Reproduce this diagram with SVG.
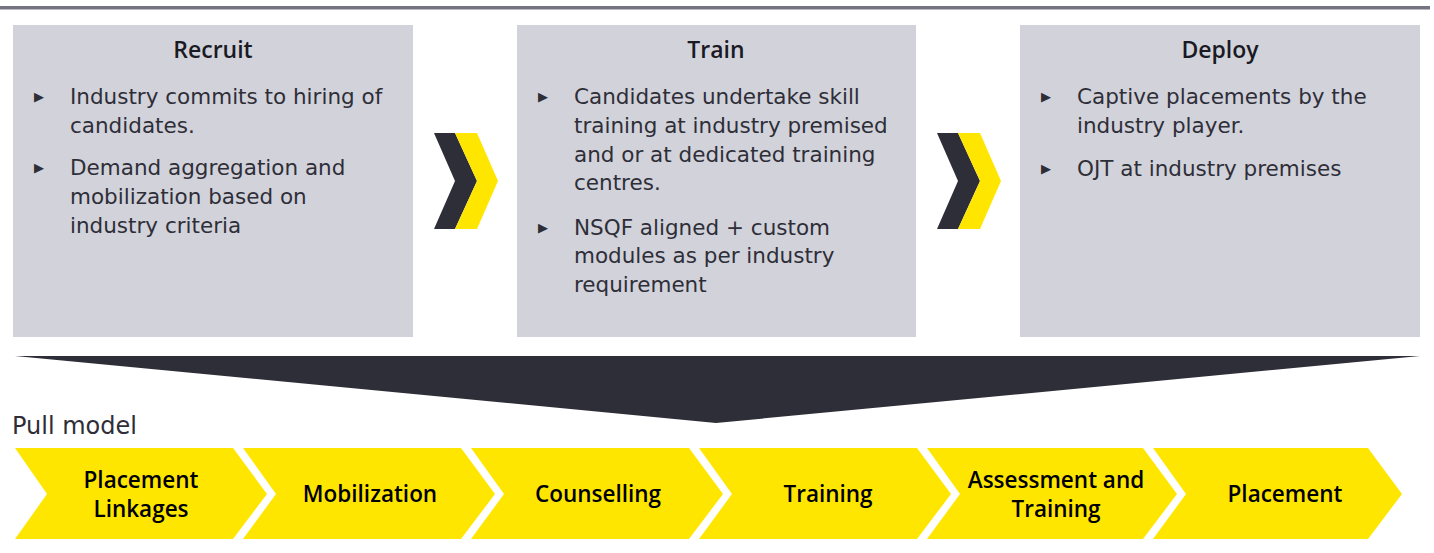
<svg xmlns="http://www.w3.org/2000/svg" width="1434" height="553" viewBox="0 0 1434 553">
<style>
.box{fill:#d2d2da}
.title{font-family:"Open Sans","DejaVu Sans",sans-serif;font-size:23px;font-weight:600;fill:#1a1a24;text-anchor:middle}
.body{font-family:"DejaVu Sans",sans-serif;font-size:21.5px;fill:#2e2e38}
.bul{font-family:"DejaVu Sans",sans-serif;font-size:13px;fill:#2e2e38}
.dark{fill:#2e2e38}
.yel{fill:#ffe600}
.step{font-family:"Open Sans","DejaVu Sans",sans-serif;font-size:22.5px;font-weight:600;fill:#000;text-anchor:middle}
.pull{font-family:"DejaVu Sans",sans-serif;font-size:24px;fill:#2e2e38}
</style>
<rect x="0" y="6" width="1430" height="3.5" fill="#747480"/>
<g id="recruit">
<rect class="box" x="13" y="25" width="400" height="312"/>
<text class="title" x="213" y="58">Recruit</text>
<text class="bul" x="34" y="101">▶</text>
<text class="body" x="70" y="104">Industry commits to hiring of</text>
<text class="body" x="70" y="133">candidates.</text>
<text class="bul" x="34" y="172">▶</text>
<text class="body" x="70" y="175">Demand aggregation and</text>
<text class="body" x="70" y="204">mobilization based on</text>
<text class="body" x="70" y="233">industry criteria</text>
</g>
<g id="train">
<rect class="box" x="517" y="25" width="399" height="312"/>
<text class="title" x="716" y="58">Train</text>
<text class="bul" x="538" y="101">▶</text>
<text class="body" x="574" y="104">Candidates undertake skill</text>
<text class="body" x="574" y="133">training at industry premised</text>
<text class="body" x="574" y="162">and or at dedicated training</text>
<text class="body" x="574" y="190">centres.</text>
<text class="bul" x="538" y="232">▶</text>
<text class="body" x="574" y="235">NSQF aligned + custom</text>
<text class="body" x="574" y="263">modules as per industry</text>
<text class="body" x="574" y="292">requirement</text>
</g>
<g id="deploy">
<rect class="box" x="1020" y="25" width="400" height="312"/>
<text class="title" x="1220" y="58">Deploy</text>
<text class="bul" x="1041" y="101">▶</text>
<text class="body" x="1077" y="104">Captive placements by the</text>
<text class="body" x="1077" y="133">industry player.</text>
<text class="bul" x="1041" y="173">▶</text>
<text class="body" x="1077" y="176">OJT at industry premises</text>
</g>
<g id="connectors">
<g id="chev1">
<polygon class="dark" points="434,133 455,133 477,181 455,229 434,229 455,181"/>
<polygon class="yel" points="455,133 477,133 498,181 477,229 455,229 477,181"/>
</g>
<g id="chev2">
<polygon class="dark" points="937,133 958,133 980,181 958,229 937,229 958,181"/>
<polygon class="yel" points="958,133 980,133 1001,181 980,229 958,229 980,181"/>
</g>
<polygon id="funnel" class="dark" points="15,356 1420,356 716,423"/>
</g>
<text class="pull" x="12" y="434">Pull model</text>
<g id="step1">
<polygon class="yel" points="15,448 233,448 267,494 233,539 15,539 47,494"/>
<text class="step" x="141" y="488">Placement</text>
<text class="step" x="141" y="517">Linkages</text>
</g>
<g id="step2">
<polygon class="yel" points="243,448 461,448 495,494 461,539 243,539 276,494"/>
<text class="step" x="370" y="502">Mobilization</text>
</g>
<g id="step3">
<polygon class="yel" points="471,448 689,448 723,494 689,539 471,539 504,494"/>
<text class="step" x="598" y="502">Counselling</text>
</g>
<g id="step4">
<polygon class="yel" points="699,448 917,448 951,494 917,539 699,539 732,494"/>
<text class="step" x="828" y="502">Training</text>
</g>
<g id="step5">
<polygon class="yel" points="927,448 1143,448 1177,494 1143,539 927,539 960,494"/>
<text class="step" x="1056" y="488">Assessment and</text>
<text class="step" x="1056" y="517">Training</text>
</g>
<g id="step6">
<polygon class="yel" points="1153,448 1368,448 1402,494 1368,539 1153,539 1186,494"/>
<text class="step" x="1285" y="502">Placement</text>
</g>
</svg>
